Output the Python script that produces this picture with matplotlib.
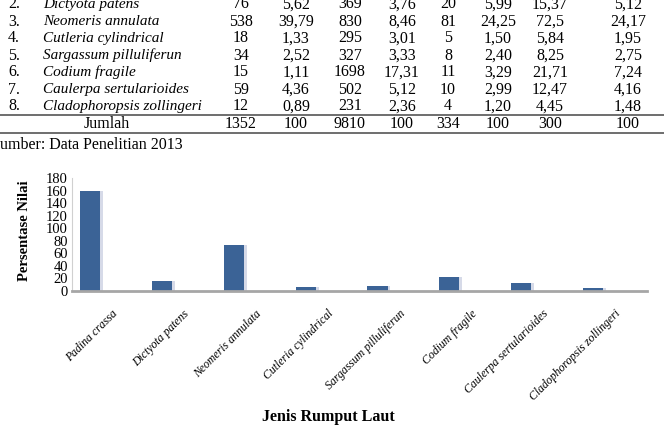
import numpy as np
import matplotlib.pyplot as plt

plt.rcParams['font.family'] = ['Liberation Serif', 'DejaVu Serif']

W, H = 664, 433

# ------------------------------------------------------
#   table data (rows 2..8 visible on the page)
# ------------------------------------------------------
row_no = ['2.', '3.', '4.', '5.', '6.', '7.', '8.']
species_rows = ['Dictyota patens', 'Neomeris annulata', 'Cutleria cylindrical',
                'Sargassum pilluliferun', 'Codium fragile', 'Caulerpa sertularioides',
                'Cladophoropsis zollingeri']
col_k = ['76', '538', '18', '34', '15', '59', '12']
col_kr = ['5,62', '39,79', '1,33', '2,52', '1,11', '4,36', '0,89']
col_d = ['369', '830', '295', '327', '1698', '502', '231']
col_dr = ['3,76', '8,46', '3,01', '3,33', '17,31', '5,12', '2,36']
col_f = ['20', '81', '5', '8', '11', '10', '4']
col_fr = ['5,99', '24,25', '1,50', '2,40', '3,29', '2,99', '1,20']
col_inp = ['15,37', '72,5', '5,84', '8,25', '21,71', '12,47', '4,45']
col_pct = ['5,12', '24,17', '1,95', '2,75', '7,24', '4,16', '1,48']
jumlah = ['1352', '100', '9810', '100', '334', '100', '300', '100']
source_text = 'umber: Data Penelitian 2013'

# ------------------------------------------------------
#   chart data
# ------------------------------------------------------
species = ['Padina crassa', 'Dictyota patens', 'Neomeris annulata', 'Cutleria cylindrical',
           'Sargassum pilluliferun', 'Codium fragile', 'Caulerpa sertularioides',
           'Cladophoropsis zollingeri']
nilai = [159.41, 15.37, 72.5, 5.84, 8.25, 21.71, 12.47, 4.45]

fig = plt.figure(figsize=(W / 100, H / 100), dpi=100)

def fx(px):
    return px / W

def fy(py):
    return 1 - py / H

# table text
row_y = [4.5, 21.5, 38.5, 55.5, 72.5, 89.5, 106.5]
col_x = [241, 296, 350, 402, 448, 498, 550, 628]
cols = [col_k, col_kr, col_d, col_dr, col_f, col_fr, col_inp, col_pct]
fs_tab = 11.5
for i in range(len(row_no)):
    y = fy(row_y[i])
    fig.text(fx(8), y, row_no[i], fontsize=fs_tab, va='center', ha='left')
    fig.text(fx(43), y, species_rows[i], fontsize=11, va='center', ha='left', style='italic')
    for j in range(len(cols)):
        fig.text(fx(col_x[j]), y, cols[j][i], fontsize=fs_tab, va='center', ha='center')
fig.text(fx(107), fy(124.5), 'Jumlah', fontsize=fs_tab, va='center', ha='center')
for j in range(len(jumlah)):
    fig.text(fx(col_x[j]), fy(124.5), jumlah[j], fontsize=fs_tab, va='center', ha='center')
for ly in [115, 133]:
    fig.add_artist(plt.Line2D([0, 1], [fy(ly), fy(ly)], color='#555555', lw=1.2))
fig.text(0, fy(145), source_text, fontsize=fs_tab, va='center', ha='left')

# ------------------------------------------------------
#   bar chart
# ------------------------------------------------------
ax = fig.add_axes([fx(72), fy(291), fx(647 - 72), (291 - 178) / H])
x = np.arange(len(species))
ax.bar(x - 0.25 + 0.03, nilai, width=0.30, color='#d6dae8', zorder=1)
ax.bar(x - 0.25, nilai, width=0.28, color='#3b6396', zorder=2)
ax.set_xlim(-0.5, 7.5)
ax.set_ylim(0, 180)
ax.set_yticks(np.arange(0, 181, 20))
ax.tick_params(axis='y', length=0, pad=3, labelsize=10.5)
ax.tick_params(axis='x', length=0, pad=12)
ax.set_xticks(x + 0.05)
ax.set_xticklabels(species, rotation=45, ha='right', va='top', rotation_mode='anchor',
                   fontsize=8.5, style='italic')
for s in ['top', 'right']:
    ax.spines[s].set_visible(False)
ax.spines['left'].set_color('#d0d0d0')
ax.spines['left'].set_linewidth(0.8)
ax.spines['bottom'].set_color('#a6a6a6')
ax.spines['bottom'].set_linewidth(2)
ax.spines['bottom'].set_zorder(3)

fig.text(fx(25), fy(231), 'Persentase Nilai', rotation=90, fontsize=10.5,
         fontweight='bold', va='center', ha='center')
fig.text(fx(328), fy(417), 'Jenis Rumput Laut', fontsize=11.5, fontweight='bold',
         va='center', ha='center')

fig.savefig('out.png', dpi=100)
